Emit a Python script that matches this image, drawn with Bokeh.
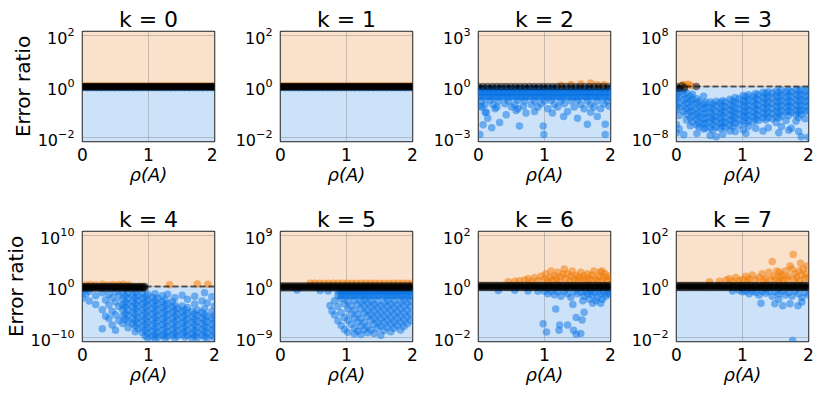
from bokeh.plotting import figure
from bokeh.layouts import gridplot
from bokeh.models import Range1d, FixedTicker, BoxAnnotation, Span
from bokeh.embed import file_html
from bokeh.resources import INLINE

FONT = "DejaVu Sans"
titles = ["k = 0", "k = 1", "k = 2", "k = 3", "k = 4", "k = 5", "k = 6", "k = 7"]
y_tick_exp = [2, 2, 3, 8, 10, 9, 2, 2]
x_ticks = [0, 1, 2]

# rho(A) positions of the densely packed points sitting on ratio ~ 1
band_x = [0.00, 0.03, 0.07, 0.10, 0.14, 0.17, 0.21, 0.24, 0.28, 0.31, 0.35, 0.38,
          0.42, 0.45, 0.49, 0.52, 0.56, 0.59, 0.63, 0.66, 0.70, 0.73, 0.77, 0.80,
          0.84, 0.87, 0.91, 0.94, 0.98, 1.01, 1.05, 1.08, 1.12, 1.15, 1.19, 1.22,
          1.26, 1.29, 1.33, 1.36, 1.40, 1.43, 1.47, 1.50, 1.54, 1.57, 1.61, 1.64,
          1.68, 1.71, 1.75, 1.78, 1.82, 1.85, 1.89, 1.92, 1.96, 1.99]

# log10(error ratio) values, per panel and colour
k0_black_rows = [0.0, -0.02]
k0_orange_rows = [0.03]
k0_blue_rows = [-0.05]

k1_black_rows = [0.0, -0.02]
k1_orange_rows = [0.03]
k1_blue_rows = [-0.05]

k2_black_rows = [0.0]
k2_blue_rows = [-0.12, -0.35, -0.6]
k2_blue_cols = [
    (0.05, [-0.85, -1.2]), (0.1, [-1.05, -1.5]), (0.14, [-1.85]), (0.18, [-0.8]),
    (0.2, [-2.4]), (0.22, [-1.05]), (0.25, [-1.3]), (0.28, [-1.2]), (0.3, [-0.85]),
    (0.32, [-2.1]), (0.4, [-1.0]), (0.42, [-1.65]), (0.45, [-0.85]), (0.5, [-1.2]),
    (0.55, [-1.05]), (0.57, [-1.4]), (0.6, [-0.8, -1.3]), (0.62, [-2.3]),
    (0.68, [-1.15]), (0.7, [-0.85]), (0.72, [-1.55]), (0.8, [-1.05]), (0.85, [-0.85, -1.45]),
    (0.9, [-1.2]), (0.95, [-1.0]), (0.98, [-2.3]), (0.99, [-2.8]), (1.0, [-0.85]),
    (1.05, [-1.3]), (1.1, [-0.8]), (1.12, [-1.55]), (1.15, [-1.05]), (1.2, [-1.2]),
    (1.25, [-0.85]), (1.29, [-1.75]), (1.3, [-1.0]), (1.35, [-1.45]), (1.4, [-0.85]),
    (1.45, [-1.2]), (1.5, [-0.8, -1.85]), (1.55, [-1.05]), (1.6, [-1.3]), (1.65, [-0.85, -2.2]),
    (1.7, [-1.05, -1.5]), (1.75, [-1.2]), (1.8, [-0.85, -1.75]), (1.85, [-1.3]),
    (1.9, [-1.0]), (1.92, [-2.2, -2.8]), (1.95, [-0.85]), (1.98, [-1.15]),
    (0.02, [-1.15, -2.8]), (0.07, [-2.23]), (0.12, [-1.5]),
]
k2_orange = [(1.25, 0.08), (1.4, 0.12), (1.55, 0.15), (1.7, 0.2), (1.8, 0.1), (1.9, 0.1)]

k3_black = [(0.0, 0.0), (0.04, -0.3), (0.08, 0.1), (0.12, -0.2), (0.3, 0.0)]
k3_orange = [(0.1, 0.3), (0.14, 0.15), (0.18, 0.35), (0.22, 0.1)]
k3_blue_cols = [
    (0.00, [-0.4, -1.3, -2.0, -2.9, -3.6, -5.9, -7.2]),
    (0.04, [-0.8, -1.6, -2.5, -3.3, -4.5, -6.6]),
    (0.11, [-0.5, -1.2, -2.1, -3.0, -3.9, -7.5]),
    (0.15, [-1.0, -1.9, -2.6, -3.4, -4.3, -5.2]),
    (0.21, [-1.5, -2.3, -3.2, -3.9, -4.9, -6.1]),
    (0.24, [-1.2, -2.0, -2.8, -3.8, -4.6, -5.5]),
    (0.31, [-1.9, -2.6, -3.5, -4.4, -5.1, -6.0, -7.3]),
    (0.34, [-2.3, -3.1, -4.0, -4.7, -5.6, -6.3]),
    (0.41, [-1.5, -2.7, -3.4, -4.2, -5.1, -5.8, -6.6]),
    (0.44, [-2.5, -3.2, -4.1, -4.9, -5.7, -6.5]),
    (0.51, [-2.4, -3.3, -4.0, -4.8, -5.5, -6.4, -7.6]),
    (0.55, [-2.7, -3.5, -4.4, -5.1, -5.9, -6.8]),
    (0.60, [-2.3, -3.0, -3.9, -4.7, -5.4, -6.3, -7.8]),
    (0.66, [-2.5, -3.4, -4.1, -4.9, -5.7, -6.5]),
    (0.70, [-2.2, -3.0, -3.8, -4.6, -5.5, -6.2, -7.4]),
    (0.74, [-2.4, -3.2, -4.0, -4.9, -5.6, -6.4]),
    (0.81, [-2.0, -2.9, -3.6, -4.4, -5.2, -6.0, -6.9]),
    (0.85, [-2.2, -3.0, -3.8, -4.6, -5.3, -6.2]),
    (0.89, [-1.7, -2.5, -3.4, -4.1, -4.9, -5.7, -7.0]),
    (0.95, [-1.9, -2.7, -3.5, -4.3, -5.1, -6.0]),
    (1.01, [-1.4, -2.2, -3.0, -3.9, -4.6, -5.4, -6.7]),
    (1.05, [-1.6, -2.4, -3.2, -4.0, -4.8, -5.7, -7.3]),
    (1.09, [-1.3, -2.1, -2.9, -3.7, -4.5, -5.3, -6.2]),
    (1.16, [-1.5, -2.3, -3.1, -3.9, -4.7, -5.5]),
    (1.20, [-1.1, -1.9, -2.7, -3.5, -4.3, -5.1, -6.5]),
    (1.24, [-1.3, -2.1, -2.9, -3.7, -4.5, -5.3]),
    (1.31, [-0.9, -1.7, -2.5, -3.3, -4.1, -4.9, -6.9]),
    (1.35, [-1.1, -1.9, -2.7, -3.5, -4.3, -5.2]),
    (1.39, [-0.8, -1.6, -2.4, -3.2, -4.0, -4.8, -6.4]),
    (1.45, [-1.0, -1.8, -2.6, -3.4, -4.2, -5.0]),
    (1.51, [-0.7, -1.5, -2.3, -3.1, -3.9, -4.7, -5.6]),
    (1.55, [-0.9, -1.7, -2.5, -3.3, -4.1, -4.9, -7.2]),
    (1.59, [-0.6, -1.4, -2.2, -3.0, -3.8, -4.6, -6.2]),
    (1.66, [-0.8, -1.6, -2.4, -3.2, -4.0, -5.3]),
    (1.70, [-0.6, -1.4, -2.2, -3.0, -3.8, -4.5, -6.8]),
    (1.74, [-0.8, -1.6, -2.4, -3.2, -4.0, -6.5]),
    (1.81, [-0.5, -1.3, -2.1, -2.9, -3.7, -4.4, -5.4]),
    (1.85, [-0.7, -1.5, -2.3, -3.1, -3.9, -4.8, -7.0]),
    (1.89, [-0.5, -1.3, -2.1, -2.9, -3.7, -4.3, -7.8]),
    (1.95, [-0.7, -1.5, -2.3, -3.1, -3.9, -5.0]),
    (2.00, [-0.6, -1.4, -2.2, -3.0, -3.8, -7.9]),
]

k4_black_rows = [0.0, -0.3]
k4_black_xmax = 0.95
k4_orange = [(0.05, 0.3), (0.12, 0.4), (0.2, 0.3), (0.3, 0.45), (0.38, 0.3), (0.46, 0.4),
             (0.55, 0.35), (0.62, 0.45), (0.7, 0.3), (1.32, 0.35), (1.74, 0.5), (1.9, 0.45)]
k4_blue_cols = [
    (0.00, [-1.0, -2.3]), (0.05, [-1.5]), (0.10, [-0.9, -2.8]), (0.20, [-1.8, -3.5]),
    (0.30, [-1.2, -4.5, -8.2]), (0.35, [-2.6, -5.8]), (0.40, [-1.5, -3.6, -6.2]),
    (0.45, [-2.2, -4.8, -7.5]), (0.50, [-1.0, -3.0, -5.5, -8.5]), (0.55, [-1.8, -3.9, -6.6]),
    (0.61, [-1.2, -2.5, -3.6, -4.5, -5.8, -7.2]),
    (0.65, [-1.8, -3.0, -4.0, -5.3, -6.4]),
    (0.69, [-1.3, -2.3, -3.4, -4.6, -5.6, -6.8, -8.0]),
    (0.76, [-1.6, -2.8, -3.9, -5.0, -6.2, -7.3]),
    (0.80, [-1.1, -2.2, -3.3, -4.3, -5.4, -6.5, -7.6, -8.8]),
    (0.84, [-1.7, -2.7, -3.8, -4.9, -6.0, -7.1, -8.2]),
    (0.91, [-1.3, -2.4, -3.4, -4.5, -5.7, -6.7, -7.8, -9.0]),
    (0.95, [-1.9, -3.0, -4.1, -5.2, -6.3, -7.4, -8.5, -9.6]),
    (0.99, [-1.5, -2.6, -3.6, -4.7, -5.8, -6.9, -8.0, -9.1, -10.0]),
    (1.06, [-2.1, -3.2, -4.3, -5.4, -6.5, -7.6, -8.7, -9.7]),
    (1.10, [-1.4, -2.7, -3.8, -4.9, -6.0, -7.1, -8.2, -9.3, -10.1]),
    (1.14, [-2.3, -3.4, -4.5, -5.6, -6.7, -7.8, -8.9, -9.8]),
    (1.21, [-1.8, -3.0, -4.1, -5.2, -6.3, -7.4, -8.5, -9.5]),
    (1.25, [-2.6, -3.7, -4.8, -5.9, -7.0, -8.1, -9.2, -10.0]),
    (1.29, [-1.5, -3.3, -4.4, -5.5, -6.6, -7.7, -8.8, -9.7]),
    (1.36, [-2.9, -4.0, -5.1, -6.2, -7.3, -8.4, -9.4]),
    (1.40, [-2.2, -3.6, -4.7, -5.8, -6.9, -8.0, -9.1, -10.0]),
    (1.44, [-4.2, -5.3, -6.4, -7.5, -8.6, -9.6]),
    (1.51, [-1.7, -3.8, -4.9, -6.0, -7.1, -8.2, -9.3]),
    (1.55, [-4.5, -5.6, -6.7, -7.8, -8.9, -9.8]),
    (1.59, [-2.5, -4.1, -5.2, -6.3, -7.4, -8.5, -9.5]),
    (1.66, [-4.8, -5.9, -7.0, -8.1, -9.2, -10.0]),
    (1.70, [-1.9, -3.4, -5.3, -6.4, -7.5, -8.6, -9.6]),
    (1.74, [-4.6, -5.7, -6.8, -7.9, -9.0, -9.9]),
    (1.81, [-2.8, -5.0, -6.1, -7.2, -8.3, -9.4]),
    (1.85, [-1.2, -4.3, -5.5, -6.6, -7.7, -8.8, -9.8]),
    (1.89, [-3.2, -5.8, -6.9, -8.0, -9.1, -10.0]),
    (1.96, [-2.0, -4.9, -6.2, -7.3, -8.4, -9.5]),
    (2.00, [-3.8, -5.6, -6.7, -7.8, -8.9, -9.9]),
]

k5_black_rows = [0.1, -0.2]
k5_orange_rows = [0.55]
k5_orange_xmin = 0.45
k5_blue_rows = [-0.8, -1.6]
k5_blue_xmin = 0.85
k5_blue_cols = [
    (0.25, [-0.6]), (0.6, [-0.7]), (0.72, [-0.8]), (0.75, [-3.3]), (0.78, [-4.3]),
    (0.82, [-2.5, -5.0]), (0.87, [-3.5, -6.0]), (0.92, [-2.2, -4.6, -6.8]),
    (0.97, [-3.0, -5.4, -7.5]), (1.02, [-2.6, -3.9, -5.9, -8.0]), (1.07, [-3.4, -4.8, -6.6]),
    (1.12, [-2.4, -4.2, -5.5, -7.3, -8.3]), (1.17, [-3.1, -4.9, -6.2, -7.8]),
    (1.22, [-2.7, -3.9, -5.6, -6.9, -8.4]), (1.27, [-2.3, -3.4, -4.6, -6.3, -7.5]),
    (1.32, [-2.9, -4.1, -5.2, -7.0, -8.1]), (1.37, [-2.5, -3.6, -4.8, -5.9, -7.6]),
    (1.42, [-3.1, -4.3, -5.5, -6.6, -8.2]), (1.47, [-2.6, -3.8, -5.0, -6.2, -7.3]),
    (1.52, [-3.3, -4.5, -5.7, -6.9, -8.5]), (1.57, [-2.8, -4.0, -5.2, -6.4, -7.7]),
    (1.62, [-2.4, -3.5, -4.7, -5.9, -7.1]), (1.67, [-3.0, -4.2, -5.4, -6.6, -7.9]),
    (1.72, [-2.5, -3.7, -4.9, -6.1, -7.3]), (1.77, [-3.2, -4.4, -5.6, -6.8]),
    (1.82, [-2.7, -3.9, -5.1, -6.3, -7.6]), (1.87, [-2.3, -3.4, -4.6, -5.8, -7.0]),
    (1.92, [-2.9, -4.1, -5.3, -6.5]), (1.97, [-2.5, -3.6, -4.8, -6.0]),
]

k6_black_rows = [0.04, -0.04]
k6_orange = [(0.45, 0.18), (0.55, 0.2), (0.62, 0.22), (0.7, 0.25), (0.75, 0.3), (0.8, 0.2),
             (0.85, 0.35), (0.9, 0.22), (0.95, 0.4), (1.0, 0.28), (1.02, 0.5), (1.05, 0.2),
             (1.08, 0.35), (1.1, 0.6), (1.12, 0.25), (1.15, 0.42), (1.18, 0.3), (1.2, 0.55),
             (1.22, 0.2), (1.25, 0.38), (1.28, 0.48), (1.3, 0.68), (1.32, 0.28), (1.35, 0.5),
             (1.38, 0.2), (1.4, 0.4), (1.42, 0.6), (1.45, 0.3), (1.48, 0.45), (1.5, 0.22),
             (1.52, 0.35), (1.55, 0.55), (1.58, 0.28), (1.6, 0.42), (1.62, 0.2), (1.65, 0.5),
             (1.68, 0.32), (1.7, 0.25), (1.72, 0.45), (1.75, 0.6), (1.78, 0.3), (1.8, 0.2),
             (1.82, 0.4), (1.85, 0.55), (1.88, 0.25), (1.9, 0.35), (1.92, 0.5), (1.95, 0.22),
             (1.97, 0.4), (2.0, 0.3), (1.87, 0.6)]
k6_blue = [(0.3, -0.16), (0.55, -0.15), (0.75, -0.17), (0.9, -0.18),
           (1.0, -0.18), (1.05, -0.28), (1.1, -0.18), (1.15, -0.32), (1.2, -0.2), (1.25, -0.38),
           (1.3, -0.18), (1.35, -0.28), (1.4, -0.42), (1.45, -0.18), (1.5, -0.28), (1.55, -0.22),
           (1.6, -0.38), (1.62, -0.18), (1.65, -0.28), (1.7, -0.18), (1.72, -0.33), (1.75, -0.23),
           (1.8, -0.42), (1.82, -0.18), (1.85, -0.28), (1.9, -0.2), (1.92, -0.38), (1.95, -0.26),
           (1.98, -0.18), (2.0, -0.33), (1.68, -0.5), (1.78, -0.55), (1.88, -0.5), (1.58, -0.55),
           (1.17, -0.87), (0.98, -1.45), (1.03, -1.77), (1.22, -1.7), (1.23, -1.5), (1.35, -1.5),
           (1.48, -1.2), (1.57, -1.3), (1.44, -1.7), (1.48, -1.85), (1.55, -1.83), (1.43, -0.7),
           (1.6, -1.0), (1.73, -0.65), (1.85, -0.65)]

k7_black_rows = [0.04, -0.04]
k7_orange = [(0.5, 0.18), (0.65, 0.2), (0.75, 0.25), (0.8, 0.3), (0.85, 0.2), (0.9, 0.35),
             (0.95, 0.22), (1.0, 0.28), (1.05, 0.4), (1.08, 0.2), (1.1, 0.3), (1.15, 0.45),
             (1.2, 0.25), (1.25, 0.35), (1.3, 0.5), (1.32, 0.22), (1.35, 0.3), (1.4, 0.55),
             (1.42, 0.25), (1.45, 0.97), (1.47, 0.4), (1.5, 0.3), (1.52, 0.6), (1.55, 0.2),
             (1.56, 0.55), (1.58, 0.35), (1.6, 0.45), (1.62, 0.25), (1.65, 0.6), (1.68, 0.3),
             (1.7, 0.4), (1.72, 0.8), (1.75, 0.68), (1.77, 1.24), (1.78, 0.25), (1.8, 0.5),
             (1.82, 0.35), (1.85, 0.6), (1.87, 0.22), (1.9, 0.45), (1.92, 0.68), (1.94, 0.3),
             (1.96, 0.5), (1.98, 0.8), (2.0, 0.35), (1.88, 0.9)]
k7_blue = [(0.85, -0.17), (0.95, -0.16), (1.0, -0.2), (1.05, -0.18), (1.1, -0.28), (1.15, -0.18),
           (1.2, -0.23), (1.25, -0.33), (1.3, -0.18), (1.35, -0.26), (1.4, -0.18), (1.45, -0.38),
           (1.5, -0.2), (1.55, -0.28), (1.6, -0.18), (1.65, -0.33), (1.7, -0.23), (1.75, -0.38),
           (1.8, -0.18), (1.85, -0.28), (1.9, -0.43), (1.95, -0.23), (2.0, -0.33),
           (1.28, -0.65), (1.49, -0.67), (1.61, -0.75), (1.84, -0.75), (1.72, -0.67),
           (1.76, -2.1), (1.9, -0.6), (1.55, -0.5)]

BLUE = "#0873E6"
ORANGE = "#F07800"
PEACH = "#FAE1CB"
LIGHTBLUE = "#CCE2F9"


def rows(es, xmin=0.0, xmax=2.0, step=1):
    xs = [x for x in band_x if xmin <= x <= xmax][::step]
    return [(x, e) for x in xs for e in es]


def cols(cs):
    return [(x, e) for x, es in cs for e in es]


panel_points = [
    (rows(k0_blue_rows, step=2), rows(k0_orange_rows, step=2), rows(k0_black_rows)),
    (rows(k1_blue_rows, step=2), rows(k1_orange_rows, step=2), rows(k1_black_rows)),
    (rows(k2_blue_rows) + cols(k2_blue_cols), k2_orange, rows(k2_black_rows, step=2)),
    (cols(k3_blue_cols), k3_orange, k3_black),
    (cols(k4_blue_cols), k4_orange, rows(k4_black_rows, xmax=k4_black_xmax)),
    (rows(k5_blue_rows, xmin=k5_blue_xmin) + cols(k5_blue_cols),
     rows(k5_orange_rows, xmin=k5_orange_xmin, step=2), rows(k5_black_rows)),
    (k6_blue, k6_orange, rows(k6_black_rows)),
    (k7_blue, k7_orange, rows(k7_black_rows)),
]


def make_panel(i):
    E = y_tick_exp[i]
    pad = 0.034 * 2 * E
    c, r = i % 4, i // 4
    p = figure(frame_width=132, frame_height=110,
               x_range=Range1d(0, 2), y_range=Range1d(10 ** (-E - pad), 10 ** (E + pad)),
               y_axis_type="log", output_backend="svg", toolbar_location=None,
               min_border_left=75 if c == 0 else 56, min_border_right=10,
               min_border_top=31, min_border_bottom=59 if r == 0 else 45,
               title=titles[i], background_fill_color="white", border_fill_color="white")
    p.title.align = "center"
    p.title.text_font = FONT
    p.title.text_font_size = "22px"
    p.title.text_font_style = "normal"
    p.title.text_color = "black"
    p.title.standoff = 0

    p.add_layout(BoxAnnotation(bottom=1, fill_color=PEACH, fill_alpha=1.0, line_color=None, level="image"))
    p.add_layout(BoxAnnotation(top=1, fill_color=LIGHTBLUE, fill_alpha=1.0, line_color=None, level="image"))

    xt = FixedTicker(ticks=x_ticks, minor_ticks=[])
    yt = FixedTicker(ticks=[10.0 ** (-E), 1.0, 10.0 ** E], minor_ticks=[])
    p.xaxis.ticker = xt
    p.yaxis.ticker = yt
    p.xgrid.ticker = xt
    p.ygrid.ticker = yt
    for g in (p.xgrid, p.ygrid):
        g.grid_line_color = "#8a8a8a"
        g.grid_line_alpha = 0.45
        g.grid_line_width = 1

    blue, orange, black = panel_points[i]
    for pts, col in ((blue, BLUE), (orange, ORANGE), (black, "black")):
        xs = [q[0] for q in pts]
        ys = [10.0 ** q[1] for q in pts]
        p.scatter(xs, ys, size=7.5, fill_color=col, fill_alpha=0.5, line_color=None)

    p.add_layout(Span(location=1, dimension="width", line_color="black", line_alpha=0.6,
                      line_width=2, line_dash="6 3"))

    for ax in (p.xaxis[0], p.yaxis[0]):
        ax.axis_line_color = None
        ax.major_tick_line_color = None
        ax.minor_tick_line_color = None
        ax.major_label_text_font = FONT
        ax.major_label_text_color = "black"
        ax.axis_label_text_font = FONT
        ax.axis_label_text_color = "black"
    p.xaxis.major_label_standoff = 0
    p.yaxis.major_label_standoff = 2
    p.xaxis.major_label_text_font_size = "17px"
    p.yaxis.major_label_text_font_size = "16px"
    p.xaxis.axis_label = "ρ(A)"
    p.xaxis.axis_label_text_font_size = "18px"
    p.xaxis.axis_label_text_font_style = "italic"
    p.xaxis.axis_label_standoff = 0
    if c == 0:
        p.yaxis.axis_label = "Error ratio"
        p.yaxis.axis_label_text_font_size = "20px"
        p.yaxis.axis_label_text_font_style = "normal"
        p.yaxis.axis_label_standoff = 0
    p.outline_line_color = "#222222"
    p.outline_line_width = 1.5
    p.outline_line_alpha = 1.0
    return p


figs = [make_panel(i) for i in range(8)]
grid = gridplot([figs[:4], figs[4:]], toolbar_location=None)
open("out.html", "w").write(file_html(grid, INLINE))
